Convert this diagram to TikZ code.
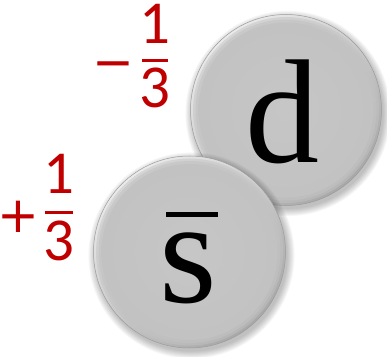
\documentclass[tikz,border=0pt]{standalone}
\usepackage{fontspec}
\setmainfont{Liberation Serif}
\newfontfamily\numfont{Carlito}
\newfontfamily\signfont{DejaVu Sans}
\definecolor{chargered}{HTML}{C00000}
\definecolor{ballbase}{HTML}{C2C2C2}
\definecolor{ballcore}{HTML}{C6C6C6}
\definecolor{balllight}{HTML}{EAEAEA}
\definecolor{balldark}{HTML}{A8A8A8}
\definecolor{ballrim}{HTML}{9C9C9C}
\tikzset{
  charge/.style={text=chargered, font=\numfont\fontsize{61}{61}\selectfont, inner sep=0pt, anchor=base},
  sign/.style={text=chargered, font=\signfont\fontsize{50}{50}\selectfont, inner sep=0pt, anchor=base},
  quark/.style={text=black, font=\fontsize{148}{148}\selectfont, inner sep=0pt, anchor=base},
  fracbar/.style={draw=chargered, line width=3pt},
  quarkbar/.style={draw=black, line width=5pt},
}
\newcommand\quarkball[3]{%
  \foreach \i in {1,...,9} {\fill[black, opacity=0.03] (#1+2,#2-3.5) circle ({#3+\i*0.9-1});}
  \shade[top color=balllight, bottom color=balldark, shading angle=40] (#1,#2) circle (#3);
  \fill[ballbase, opacity=0.5] (#1,#2) circle ({#3-2.5});
  \fill[ballbase, opacity=0.6] (#1,#2) circle ({#3-5});
  \shade[inner color=ballcore, outer color=ballbase] (#1,#2) circle ({#3-8});
  \draw[ballrim, line width=0.5pt] (#1,#2) circle (#3);
}
\begin{document}
\begin{tikzpicture}[x=1pt,y=1pt]
\useasboundingbox (0,0) rectangle (387,356);
% top-right ball (d)
\quarkball{286}{246}{95.5}
% bottom-left ball (anti-s)
\quarkball{189.5}{104}{96}
% quark letters
\node[quark] (d) at (282.5,193) {d};
\node[quark] (s) at (188,54) {s};
\coordinate (sbarL) at (166,141.5);
\coordinate (sbarR) at (218,141.5);
\draw[quarkbar] (sbarL) -- (sbarR);
% charge -1/3
\node[sign] (minus) at (113,276) {−};
\node[charge] (dnum) at (155,312) {1};
\node[charge] (dden) at (155,248) {3};
\coordinate (dbarL) at (142,295);
\coordinate (dbarR) at (168,295);
\draw[fracbar] (dbarL) -- (dbarR);
% charge +1/3
\node[sign] (plus) at (18.5,124) {+};
\node[charge] (snum) at (59,163) {1};
\node[charge] (sden) at (59,96) {3};
\coordinate (sfbarL) at (45,144);
\coordinate (sfbarR) at (73,144);
\draw[fracbar] (sfbarL) -- (sfbarR);
\end{tikzpicture}
\end{document}
